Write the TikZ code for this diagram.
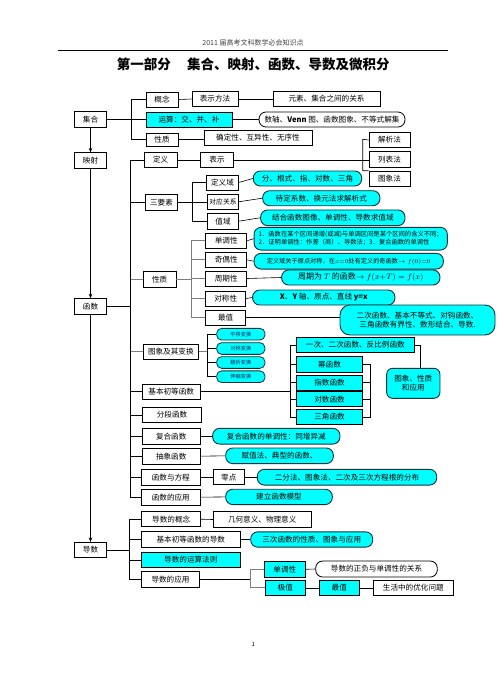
\documentclass[tikz,border=0pt]{standalone}
\usepackage{fontspec}
\setmainfont{Noto Sans CJK SC}
\usetikzlibrary{arrows.meta}
\definecolor{cy}{RGB}{0,255,255}
\definecolor{gline}{RGB}{125,125,125}
\definecolor{cborder}{RGB}{20,50,60}
\definecolor{tnavy}{RGB}{20,30,90}
\begin{document}
\begin{tikzpicture}[x=1pt,y=-1pt,
  bx/.style={draw=black, line width=0.6pt, fill=white, inner sep=0pt, font=\fontsize{7.6}{9}\selectfont, align=center},
  cb/.style={bx, fill=cy},
  cr/.style={draw=cborder, line width=0.9pt, fill=cy, rounded corners=7pt, inner sep=0pt, font=\fontsize{7.6}{9}\selectfont, align=center},
  wr/.style={draw=black, line width=0.8pt, fill=white, rounded corners=7pt, inner sep=0pt, font=\fontsize{7.6}{9}\selectfont, align=center},
  sm/.style={draw=cborder, line width=0.8pt, fill=cy, rounded corners=5pt, inner sep=0pt, minimum width=48.3pt, minimum height=11.7pt, font=\fontsize{5.2}{6}\selectfont, text=tnavy},
  ln/.style={line width=0.6pt},
  gl/.style={line width=1.3pt, draw=gline},
  arr/.style={line width=0.6pt, -{Stealth[length=4.5pt,width=3.5pt]}}]
\useasboundingbox (0,0) rectangle (499,691);

% header
\node[font=\fontsize{7}{8}\selectfont, text=black!75] (hdr) at (253,43.3) {2011 届高考文科数学必会知识点};
\coordinate (hl) at (58.3,50.3);
\coordinate (hr) at (448.3,50.3);
\draw[line width=0.8pt] (hl) -- (hr);
\node[font=\fontsize{13.5}{15}\selectfont\bfseries] (title) at (253.3,64.5) {第一部分\hspace{1.2em}集合、映射、函数、导数及微积分};
\node[font=\fontsize{6}{7}\selectfont] (pg) at (253.3,644) {1};

% left column
\node[bx, minimum width=32.4pt, minimum height=15.6pt] (jihe) at (90.5,119.5) {集合};
\node[bx, minimum width=32.4pt, minimum height=15.6pt] (yingshe) at (90.5,160.5) {映射};
\node[bx, minimum width=32.4pt, minimum height=15.6pt] (hanshu) at (90.5,306.3) {函数};
\node[bx, minimum width=32.4pt, minimum height=15pt] (daoshu) at (90.5,549.8) {导数};
\draw[arr] (jihe) -- (yingshe);
\draw[arr] (yingshe) -- (hanshu);
\draw[arr] (hanshu) -- (daoshu);

% ===== 集合
\node[bx, minimum width=32pt, minimum height=15pt] (gainian) at (162,99.5) {概念};
\node[bx, minimum width=46pt, minimum height=14.5pt] (bsff) at (215,99) {表示方法};
\node[bx, minimum width=107pt, minimum height=14.5pt] (yuansu) at (326.5,99) {元素、集合之间的关系};
\node[cb, minimum width=86pt, minimum height=15pt] (yunsuan) at (189,119.5) {运算：交、并、补};
\node[wr, minimum width=146pt, minimum height=15pt] (shuzhou) at (332,119.5) {数轴、\textbf{Venn} 图、函数图象、不等式解集};
\node[bx, minimum width=32pt, minimum height=13pt] (xz1) at (162,139.5) {性质};
\node[bx, minimum width=108pt, minimum height=15pt] (qdx) at (258,137.5) {确定性、互异性、无序性};
\coordinate (t1) at (131.5,0);
\draw[ln] (gainian.west) -- (gainian.west -| t1) -- (xz1.west -| t1) -- (xz1.west);
\draw[ln] (jihe.east) -- (yunsuan.west);
\draw[ln] (gainian.east) -- (bsff.west);
\draw[ln] (bsff.east) -- (yuansu.west);
\draw[ln] (yunsuan.east) -- (shuzhou.west);
\draw[ln] (xz1.east) -- (xz1.east -| qdx.west);

% ===== 函数 tree
\coordinate (t2) at (130.7,0);
\node[bx, minimum width=33pt, minimum height=15pt] (dingyi) at (160.7,160) {定义};
\node[bx, minimum width=32.6pt, minimum height=15pt] (biaoshi) at (217,160) {表示};
\node[bx, minimum width=41pt, minimum height=15.4pt] (jiexi) at (389.5,140) {解析法};
\node[bx, minimum width=41pt, minimum height=16pt] (liebiao) at (389.5,159.5) {列表法};
\node[bx, minimum width=41pt, minimum height=15.7pt] (tuxiangfa) at (389.5,178.9) {图象法};
\draw[ln] (dingyi.east) -- (biaoshi.west);
\draw[ln] (biaoshi.east) -- (biaoshi.east -| liebiao.west);
\coordinate (f3top) at (362.7,139.3);
\coordinate (f3bot) at (362.7,170.8);
\draw[ln] (jiexi.west) -- (f3top) -- (f3bot) -- (tuxiangfa.north west);

% 三要素
\node[bx, minimum width=31.6pt, minimum height=15.7pt] (syss) at (161.5,202.2) {三要素};
\node[bx, minimum width=31.6pt, minimum height=15pt] (dyy) at (222.5,182.5) {定义域};
\node[bx, minimum width=30.6pt, minimum height=15pt, font=\fontsize{6.8}{8}\selectfont] (dygx) at (223,201.8) {对应关系};
\node[bx, minimum width=30.6pt, minimum height=15.7pt] (zhiyu) at (223,221.2) {值域};
\coordinate (t4) at (192.7,0);
\draw[ln] (syss.east) -- (syss.east -| t4);
\draw[ln] (dyy.west) -- (dyy.west -| t4) -- (zhiyu.west -| t4) -- (zhiyu.west);
\draw[ln] (dygx.west) -- (dygx.west -| t4);
\node[cr, minimum width=108.4pt, minimum height=15pt] (c1) at (307.5,178.5) {分、根式、指、对数、三角};
\node[cr, minimum width=117.3pt, minimum height=15pt] (c2) at (321.3,198.2) {待定系数、换元法求解析式};
\node[cr, minimum width=144.3pt, minimum height=15.7pt] (c3) at (332.8,217.8) {结合函数图像、单调性、导数求值域};
\draw[ln] (dyy.east) -- (c1.west);
\draw[ln] (dygx.east) -- (c2.west);
\draw[ln] (zhiyu.east) -- (c3.west);

% 性质
\node[bx, minimum width=32.7pt, minimum height=15.6pt] (xz2) at (159.7,279.5) {性质};
\node[bx, minimum width=41pt, minimum height=15pt] (ddx) at (226.2,240.8) {单调性};
\node[bx, minimum width=41pt, minimum height=15pt] (jox) at (226.2,259.8) {奇偶性};
\node[bx, minimum width=41pt, minimum height=15pt] (zqx) at (226.2,278.5) {周期性};
\node[bx, minimum width=40pt, minimum height=15pt] (dcx) at (225.7,298.5) {对称性};
\node[bx, minimum width=40pt, minimum height=15pt] (zuizhi) at (225.7,317.5) {最值};
\coordinate (t5) at (191.7,0);
\draw[gl] (xz2.west) -- (xz2.west -| t2);
\draw[gl] (xz2.east) -- (xz2.east -| t5);
\draw[gl] (ddx.west) -- (ddx.west -| t5) -- (zuizhi.west -| t5) -- (zuizhi.west);
\draw[gl] (jox.west) -- (jox.west -| t5);
\draw[gl] (zqx.west) -- (zqx.west -| t5);
\draw[gl] (dcx.west) -- (dcx.west -| t5);
\node[cr, minimum width=193.3pt, minimum height=22.7pt, font=\fontsize{6.3}{8}\selectfont, align=left] (c4) at (350.7,238.7) {1．函数在某个区间递增(或减)与单调区间是某个区间的含义不同；\\2．证明单调性：作差（商）、导数法；3．复合函数的单调性};
\node[cr, minimum width=189.3pt, minimum height=15.7pt, font=\fontsize{6.2}{8}\selectfont] (c5) at (348.7,261.2) {定义域关于原点对称，在$x{=}0$处有定义的奇函数$\rightarrow f(0){=}0$};
\node[cr, minimum width=158.3pt, minimum height=15pt, font=\fontsize{8}{9}\selectfont] (c6) at (360.8,277.5) {周期为 $T$ 的函数$\rightarrow f(x{+}T)=f(x)$};
\node[cr, minimum width=142.3pt, minimum height=15pt] (c7) at (323.8,297.5) {\textbf{X}、\textbf{Y} 轴、原点、直线 \textbf{y=x}};
\node[cr, minimum width=155pt, minimum height=30pt, rounded corners=10pt] (c8) at (417.5,320) {二次函数、基本不等式、对钩函数、\\三角函数有界性、数形结合、导数.};
\draw[ln] (ddx.east) -- (c4.west);
\draw[ln] (jox.east) -- (c5.west);
\draw[ln] (zqx.east) -- (c6.west);
\draw[ln] (dcx.east) -- (c7.west);
\draw[ln] (zuizhi.east) -- (zuizhi.east -| c8.west);

% 图象及其变换
\node[bx, minimum width=55pt, minimum height=15pt] (txbh) at (170.8,351.8) {图象及其变换};
\node[sm] (py) at (240.8,334.2) {平移变换};
\node[sm] (dc) at (240.8,348.5) {对称变换};
\node[sm] (fz) at (240.8,362.5) {翻折变换};
\node[sm] (sx) at (240.8,376.7) {伸缩变换};
\coordinate (t6) at (207.7,0);
\draw[gl] (txbh.west) -- (txbh.west -| t2);
\draw[gl] (txbh.east) -- (txbh.east -| t6);
\draw[ln] (py.west) -- (py.west -| t6) -- (sx.west -| t6) -- (sx.west);
\draw[ln] (dc.west) -- (dc.west -| t6);
\draw[ln] (fz.west) -- (fz.west -| t6);

% 基本初等函数
\node[bx, minimum width=57.7pt, minimum height=15pt] (jbcd) at (171.2,391.5) {基本初等函数};
\node[cb, minimum width=117.3pt, minimum height=14.6pt] (yici) at (355.3,345) {一次、二次函数、反比例函数};
\node[cb, minimum width=65.6pt, minimum height=15.6pt] (mi) at (329.5,364.5) {幂函数};
\node[cb, minimum width=65.6pt, minimum height=15pt] (zhishu) at (329.5,382.5) {指数函数};
\node[cb, minimum width=65.6pt, minimum height=15pt] (duishu) at (329.5,399.2) {对数函数};
\node[cb, minimum width=65.6pt, minimum height=15pt] (sanjiao) at (329.5,416.8) {三角函数};
\node[cr, minimum width=53.3pt, minimum height=30pt, rounded corners=6pt] (txxz) at (413.3,383.3) {图象、性质\\和应用};
\coordinate (t7) at (290,0);
\coordinate (t8) at (370,0);
\coordinate (t9) at (420.7,0);
\draw[ln] (jbcd.east) -- (jbcd.east -| t7);
\draw[ln] (yici.west) -- (yici.west -| t7) -- (sanjiao.west -| t7) -- (sanjiao.west);
\draw[ln] (mi.west) -- (mi.west -| t7);
\draw[ln] (zhishu.west) -- (zhishu.west -| t7);
\draw[ln] (duishu.west) -- (duishu.west -| t7);
\draw[ln] (mi.east) -- (mi.east -| t8) -- (sanjiao.east -| t8) -- (sanjiao.east);
\draw[ln] (zhishu.east) -- (zhishu.east -| t8);
\draw[ln] (duishu.east) -- (duishu.east -| t8);
\draw[ln] (yici.east) -- (yici.east -| t9) -- (txxz.north -| t9);

% remaining function boxes
\node[bx, minimum width=59.4pt, minimum height=15pt] (fdhs) at (172,414.8) {分段函数};
\node[bx, minimum width=57.7pt, minimum height=15.7pt] (fhhs) at (171.2,436.2) {复合函数};
\node[cr, minimum width=127.3pt, minimum height=15.7pt] (cfh) at (276.3,436.2) {复合函数的单调性：同增异减};
\node[bx, minimum width=57.7pt, minimum height=15.7pt] (cxhs) at (171.2,456.2) {抽象函数};
\node[cr, minimum width=107.6pt, minimum height=15.6pt] (cfz) at (279.5,455.8) {赋值法、典型的函数、};
\node[bx, minimum width=58.3pt, minimum height=15.7pt] (hsfc) at (170.8,477.2) {函数与方程};
\node[bx, minimum width=31pt, minimum height=15pt] (lingdian) at (228.8,477.2) {零点};
\node[cr, minimum width=179.4pt, minimum height=15.7pt] (cef) at (347,477.2) {二分法、图象法、二次及三次方程根的分布};
\node[bx, minimum width=58.3pt, minimum height=15.7pt] (hsyy) at (170.8,497.2) {函数的应用};
\node[cr, minimum width=106.6pt, minimum height=15.3pt] (cjl) at (279,496.9) {建立函数模型};
\draw[ln] (fhhs.east) -- (cfh.west);
\draw[ln] (cxhs.east) -- (cfz.west);
\draw[ln] (hsfc.east) -- (lingdian.west);
\draw[ln] (lingdian.east) -- (cef.west);
\draw[ln] (hsyy.east) -- (cjl.west);

% function trunk
\draw[ln] (dingyi.west) -- (dingyi.west -| t2) -- (hsyy.west -| t2) -- (hsyy.west);
\draw[ln] (hanshu.east) -- (hanshu.east -| t2);
\draw[ln] (syss.west) -- (syss.west -| t2);
\draw[ln] (jbcd.west) -- (jbcd.west -| t2);
\draw[ln] (fdhs.west) -- (fdhs.west -| t2);
\draw[ln] (fhhs.west) -- (fhhs.west -| t2);
\draw[ln] (cxhs.west) -- (cxhs.west -| t2);
\draw[ln] (hsfc.west) -- (hsfc.west -| t2);

% ===== 导数
\node[bx, minimum width=59pt, minimum height=15pt] (dsgn) at (171.2,519.2) {导数的概念};
\node[bx, minimum width=97.7pt, minimum height=15.6pt] (jhyy) at (262.2,519.5) {几何意义、物理意义};
\node[bx, minimum width=98.3pt, minimum height=15.6pt] (jbds) at (190.8,539.5) {基本初等函数的导数};
\node[cr, minimum width=122pt, minimum height=15.3pt] (csx) at (311.7,539.5) {三次函数的性质、图象与应用};
\node[cb, minimum width=98.3pt, minimum height=15pt] (ysfz) at (190.8,559.8) {导数的运算法则};
\node[bx, minimum width=57.6pt, minimum height=16.3pt] (dsyy) at (170.5,579.2) {导数的应用};
\node[cb, minimum width=41pt, minimum height=15.6pt] (dd2) at (284.8,569.3) {单调性};
\node[cb, minimum width=40pt, minimum height=15.7pt] (jizhi) at (285.3,587.8) {极值};
\node[wr, minimum width=121.6pt, minimum height=16pt] (zfgx) at (376.5,569) {导数的正负与单调性的关系};
\node[cb, minimum width=40pt, minimum height=15.7pt] (zz2) at (339.3,587.8) {最值};
\node[bx, minimum width=80pt, minimum height=15.7pt] (shyh) at (413.3,587.8) {生活中的优化问题};
\coordinate (t10) at (129.3,0);
\coordinate (t11) at (250.7,0);
\draw[ln] (daoshu.east) -- (daoshu.east -| t10);
\draw[ln] (dsgn.west) -- (dsgn.west -| t10) -- (dsyy.west -| t10) -- (dsyy.west);
\draw[ln] (jbds.west) -- (jbds.west -| t10);
\draw[ln] (ysfz.west) -- (ysfz.west -| t10);
\draw[ln] (dsgn.east) -- (jhyy.west);
\draw[ln] (jbds.east) -- (csx.west);
\draw[ln] (dsyy.east) -- (dsyy.east -| t11);
\draw[gl, line width=1pt] (dd2.west) -- (dd2.west -| t11) -- (jizhi.west -| t11) -- (jizhi.west);
\draw[ln] (dd2.east) -- (zfgx.west);
\draw[ln] (jizhi.east) -- (zz2.west);
\draw[ln] (zz2.east) -- (shyh.west);
\end{tikzpicture}
\end{document}
